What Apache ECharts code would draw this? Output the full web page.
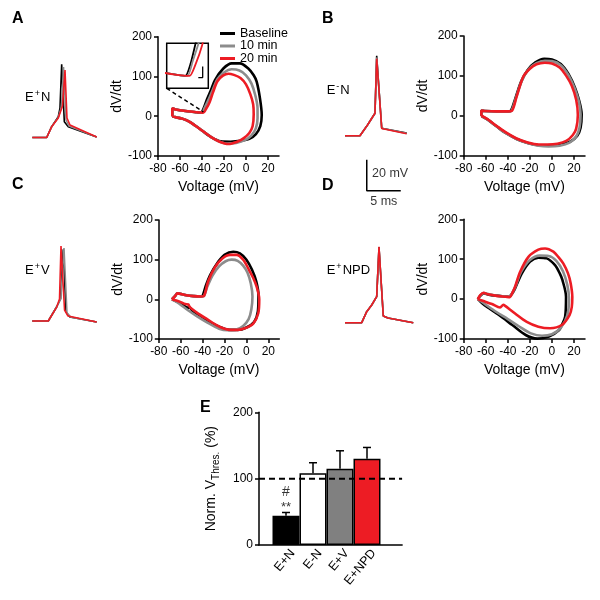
<!DOCTYPE html>
<html><head><meta charset="utf-8">
<script src="https://cdn.jsdelivr.net/npm/echarts@6/dist/echarts.min.js"></script>
<style>html,body{margin:0;padding:0;background:#fff}#c{width:600px;height:600px}</style>
</head><body><div id="c"></div>
<script>
// ---------------- DATA ----------------
const conditionNames = ['Baseline', '10 min', '20 min'];
const voltTicks = [-80, -60, -40, -20, 0, 20];

// Action potential traces [time (ms), Vm (mV)]
const apA_base = [[0,-65],[2.12,-65],[2.85,-58],[3.82,-51.6],[4.07,-46],[4.32,-17.8],[4.71,-54.8],[5.29,-58],[9.47,-64.7]];
const apA_10   = [[0,-65],[2.12,-65],[2.85,-58],[3.82,-52],[4.29,-45.3],[4.59,-19.5],[4.96,-53.7],[5.4,-57.6],[9.47,-64.7]];
const apA_20   = [[0,-65],[2.12,-65],[2.85,-58],[3.82,-52.4],[4.44,-44.7],[4.81,-21.5],[5.1,-52.4],[5.54,-56.9],[9.47,-64.7]];
const apB_base = [[0,-65],[2.2,-65],[3.31,-58.1],[4.41,-50.5],[4.66,-13.5],[5.4,-60.2],[9.07,-63.3]];
const apB_10   = [[0,-65],[2.2,-65],[3.31,-58.1],[4.41,-50.5],[4.66,-14.5],[5.4,-60.2],[9.07,-63.5]];
const apB_20   = [[0,-65],[2.2,-65],[3.31,-58.1],[4.41,-50.5],[4.66,-15.3],[5.4,-60.3],[9.07,-63.7]];
const apC_base = [[0,-65],[2.35,-65],[3.59,-55.8],[4.15,-50.8],[4.56,-18.7],[4.96,-59.2],[5.54,-62.4],[9.47,-65.6]];
const apC_10   = [[0,-65],[2.35,-65],[3.59,-55.8],[4.2,-50.5],[4.66,-17.9],[5.1,-59.8],[5.7,-62.6],[9.47,-65.6]];
const apC_20   = [[0,-65],[2.35,-65],[3.59,-56],[4.0,-50.8],[4.22,-16.6],[4.74,-57.9],[5.25,-61.8],[9.47,-65.6]];
const apD_base = [[0,-65],[2.46,-65],[3.19,-57.9],[3.93,-53.6],[4.66,-48.2],[5.0,-16.4],[5.63,-60.7],[6.32,-62],[10.04,-65]];
const apD_10   = [[0,-65],[2.46,-65],[3.19,-57.9],[3.93,-53.6],[4.66,-48.2],[5.0,-16.8],[5.63,-60.7],[6.32,-62],[10.04,-65]];
const apD_20   = [[0,-65],[2.46,-65],[3.19,-57.9],[3.93,-53.6],[4.66,-48.2],[5.0,-16.0],[5.63,-60.7],[6.32,-62],[10.04,-65]];
// scale bar (20 mV, 5 ms) in trace units
const scaleBar = [[3.2,-80.5],[3.2,-100.5],[8.2,-100.5]];
const scaleText = ['20 mV', '5 ms'];
const scaleTextPos = [[3.9,-89.3],[5.7,-107.8]];

// Phase plots [Vm (mV), dV/dt]
const loopA_base = [[-67,0],[-67,20],[-64,17],[-55,13],[-45,10],[-41,9],[-38.5,20],[-35.7,41],[-32,65],[-28.2,91],[-20.6,120],[-13,133],[-5.5,133],[2.1,120],[7,103],[9.7,87],[12.7,45],[14.3,3],[13,-25],[9,-45],[3,-57],[-5,-62],[-14,-64],[-23,-63],[-32,-52],[-40,-36],[-46,-24],[-52,-13],[-58,-6],[-63,-3],[-67,0]];
const loopA_10 = [[-67,0],[-67,20],[-64,17],[-55,13],[-45,10],[-40,9],[-37.5,22],[-34,42],[-30,68],[-26,93],[-20,110],[-13,118],[-6,115],[0,103],[5,82],[8.5,52],[10.5,20],[10.5,-5],[9,-30],[5,-48],[-1,-60],[-9,-67],[-17,-69],[-25,-63],[-32,-52],[-40,-36],[-46,-24],[-52,-13],[-58,-6],[-63,-3],[-67,0]];
const loopA_20 = [[-67,0],[-67,20],[-64,17],[-55,13],[-45,10],[-39,9],[-36,20],[-33,36],[-30,60],[-26,88],[-21,102],[-16,107],[-11,104],[-5,96],[0,80],[4,55],[6.5,30],[7,5],[6,-25],[3,-42],[-2,-55],[-8,-64],[-16,-70],[-24,-64],[-32,-52],[-40,-36],[-46,-24],[-52,-13],[-58,-6],[-63,-3],[-67,0]];
const loopB_base = [[-64,0],[-64,13],[-61,12],[-50,11],[-40,11],[-37.5,12],[-33,45],[-28,85],[-22,115],[-15,134],[-7,143],[0,141],[8,130],[15,105],[21,70],[25,35],[27,3],[26,-30],[23,-50],[17,-64],[8,-72],[-2,-75],[-12,-74],[-22,-68],[-32,-58],[-42,-43],[-50,-27],[-57,-12],[-61,-5],[-64,0]];
const loopB_10 = [[-64,0],[-64,13],[-61,12],[-50,11],[-40,11],[-37,12],[-32.5,46],[-27,90],[-21,117],[-14,132],[-6.5,138],[0,137],[8,127],[15,102],[20.5,70],[24.5,35],[26,3],[25,-30],[22,-52],[16,-67],[7,-75],[-3,-77],[-12,-75],[-22,-68],[-32,-58],[-42,-43],[-50,-27],[-57,-12],[-61,-5],[-64,0]];
const loopB_20 = [[-64,0],[-64,13],[-61,12],[-50,11],[-40,11],[-36.5,12],[-32,48],[-26,98],[-20,118],[-14,129],[-6.5,133],[0,131],[7,121],[13,100],[18,75],[22,40],[23.5,2],[22,-32],[19,-48],[13,-63],[5,-70],[-4,-72],[-12,-72],[-22,-67],[-32,-57],[-41,-43],[-50,-26],[-57,-11],[-61,-4],[-64,0]];
const loopC_base = [[-68,0],[-65,9],[-63,15],[-56,11],[-48,8],[-42,7],[-40,9],[-37,35],[-33,62],[-27,90],[-20,112],[-12,120],[-6,116],[0,100],[5,75],[9,45],[11,10],[10.5,-30],[7,-57],[0,-71],[-8,-77],[-16,-77],[-24,-70],[-34,-56],[-43,-40],[-49,-30],[-52,-21],[-54,-21],[-58,-13],[-63,-6],[-68,0]];
const loopC_10 = [[-68,0],[-65,9],[-63,15],[-56,11],[-48,8],[-42,7],[-39,8],[-36,30],[-31,60],[-25,83],[-19,96],[-13.5,100],[-8,97],[-3,85],[1,67],[4,40],[5.5,7],[4.5,-25],[2,-50],[-3,-67],[-10,-77],[-17,-78],[-25,-74],[-36,-58],[-45,-43],[-52,-30],[-58,-18],[-63,-8],[-68,0]];
const loopC_20 = [[-68,0],[-65,9],[-63,15],[-56,11],[-48,8],[-42,7],[-39,8],[-35,45],[-29,80],[-22,103],[-15,112],[-9,112],[-3,100],[2,76],[6,55],[9.3,32],[11.7,0],[10.8,-35],[6.2,-61],[-1.4,-73],[-8,-77],[-14,-77],[-20,-74],[-26,-67],[-36,-50],[-44,-36],[-50,-24],[-52,-18],[-53,-13],[-56,-12],[-60,-7],[-64,-3],[-68,0]];
const loopD_base = [[-67,0],[-65,8],[-62,14],[-55,10],[-45,7],[-39,6],[-36,14],[-33.4,27],[-27.4,64],[-19.8,94],[-12.3,104],[-4.7,102],[2.8,85],[7,65],[9.5,48],[12.8,6],[12,-44],[9,-65],[6.3,-78],[-2.7,-94],[-13.3,-99],[-23.8,-90],[-35.9,-65],[-48,-40],[-57,-23],[-63,-11],[-67,0]];
const loopD_10 = [[-67,0],[-65,9],[-62,15],[-55,11],[-45,7],[-39,6],[-36,15],[-33,32],[-28,68],[-20,98],[-11,109],[-3,108],[4,96],[10,70],[14,35],[15.5,0],[14,-40],[8,-72],[0,-88],[-9,-92],[-19,-86],[-30,-68],[-40,-50],[-50,-33],[-58,-18],[-63,-8],[-67,0]];
const loopD_20 = [[-67.3,0],[-65,10],[-62,16],[-58,12],[-50,8],[-42,6],[-38,5],[-36,15],[-33.4,31],[-28.9,68],[-21.3,106],[-12.3,124],[-6.2,127],[1.3,119],[6,105],[10.4,89],[14.5,65],[17,40],[18.5,5],[18,-20],[16,-40],[8.9,-65],[-1.7,-73],[-12.3,-69],[-22.8,-57],[-33.4,-36],[-42.4,-17],[-44,-14],[-47,-21],[-54.4,-12.5],[-62,-5],[-67.3,0]];
// inset connector and mini scale bar (phase units)
const insetConnector = [[-72.1,70.2],[-38.8,11]];
const insetScale = [[-32.7,17.3],[-32.7,7.5],[-34.8,7.5]];

// Panel E
const barCats = ['E+N', 'E-N', 'E+V', 'E+NPD'];
const barMeans = [44, 108, 115, 130];
const barSEM = [5, 16, 27, 17];
const refLine = [[0,100],[5.3,100]];
const annotText = ['#', '**'];
const annotPos = [[1,79],[1,56]];

// ---------------- STYLE ----------------
const FONT = 'Liberation Sans, Arial, Helvetica, sans-serif';
const COLORS = ['#000000', '#8c8c8c', '#ed1c24'];
const barFill = ['#000000', '#ffffff', '#808080', '#ed1c24'];

const grids = [
  {left:32.3, top:52.25, width:71.4, height:93},     // 0 trace A
  {left:158, top:36.7, width:121, height:119.3},     // 1 phase A
  {left:166.7, top:43.3, width:41.6, height:45, show:true, borderColor:'#000', borderWidth:1.5, backgroundColor:'rgba(0,0,0,0)'}, // 2 inset
  {left:345, top:50.45, width:71.4, height:158.1},   // 3 trace B
  {left:463.7, top:36, width:121.3, height:119.7},   // 4 phase B
  {left:32.3, top:235.75, width:71.4, height:93},    // 5 trace C
  {left:158.8, top:220, width:120.5, height:119},    // 6 phase C
  {left:345, top:237.45, width:71.4, height:93},     // 7 trace D
  {left:463.7, top:219.3, width:121.3, height:119.7},// 8 phase D
  {left:259, top:412.3, width:143.1, height:132.7}   // 9 bars E
].map(g => Object.assign({outerBoundsMode:'none', containLabel:false}, g));

const axLine = {onZero:false, lineStyle:{color:'#000', width:1.5}};
const axTick = {length:4, lineStyle:{color:'#000', width:1.5}};
const axLabel = {color:'#000', fontSize:12, fontFamily:FONT};
const hidden = (g, min, max) => ({gridIndex:g, type:'value', min, max, show:false, splitLine:{show:false}});

function phaseX(g) {
  return {gridIndex:g, type:'value', min:-80, max:30, splitLine:{show:false},
    axisLine:axLine, axisTick:Object.assign({customValues:voltTicks}, axTick),
    axisLabel:Object.assign({customValues:voltTicks, margin:7}, axLabel),
    name:'Voltage (mV)', nameLocation:'middle', nameGap:24,
    nameTextStyle:{fontSize:14, color:'#000', fontFamily:FONT}};
}
function phaseY(g) {
  return {gridIndex:g, type:'value', min:-100, max:200, interval:100, splitLine:{show:false},
    axisLine:axLine, axisTick:axTick, axisLabel:Object.assign({margin:6}, axLabel),
    name:'dV/dt', nameLocation:'middle', nameGap:34, nameRotate:90,
    nameTextStyle:{fontSize:14, color:'#000', fontFamily:FONT}};
}

const xAxis = [
  hidden(0, 0, 10.5), phaseX(1), hidden(2, -50, -30), hidden(3, 0, 10.5), phaseX(4),
  hidden(5, 0, 10.5), phaseX(6), hidden(7, 0, 10.5), phaseX(8),
  {gridIndex:9, type:'value', min:0, max:5.3, splitLine:{show:false}, axisLine:axLine,
   axisTick:{show:false},
   axisLabel:Object.assign({customValues:[1.25,2.25,3.25,4.25], rotate:50, margin:6, fontSize:12.5,
     formatter: v => barCats[Math.round(v - 0.25) - 1] || ''}, {color:'#000', fontFamily:FONT})}
];
const yAxis = [
  hidden(0, -70, -10), phaseY(1), hidden(2, -2, 38), hidden(3, -112, -10), phaseY(4),
  hidden(5, -70, -10), phaseY(6), hidden(7, -70, -10), phaseY(8),
  {gridIndex:9, type:'value', min:0, max:200, interval:100, splitLine:{show:false},
   axisLine:axLine, axisTick:axTick, axisLabel:Object.assign({margin:6}, axLabel),
   name:'{a|Norm. V}{b|Thres.}{a| (%)}', nameLocation:'middle', nameGap:38, nameRotate:90,
   nameTextStyle:{color:'#000', fontFamily:FONT, rich:{a:{fontSize:14, fontFamily:FONT, color:'#000'}, b:{fontSize:10, fontFamily:FONT, color:'#000', padding:[9,0,0,0]}}}}
];

function ln(name, data, ci, ax, width, smooth, extra) {
  return Object.assign({type:'line', name, data, xAxisIndex:ax, yAxisIndex:ax, symbol:'none', showSymbol:false,
    smooth: smooth, clip:true, silent:true, lineStyle:{color:COLORS[ci], width}, itemStyle:{color:COLORS[ci]}}, extra || {});
}

const series = [];
const traces = [[apA_base, apA_10, apA_20, 0], [apB_base, apB_10, apB_20, 3], [apC_base, apC_10, apC_20, 5], [apD_base, apD_10, apD_20, 7]];
traces.forEach(t => { for (let i = 0; i < 3; i++) series.push(ln(conditionNames[i], t[i], i, t[3], 1.6, false)); });
const loops = [[loopA_base, loopA_10, loopA_20, 1], [loopB_base, loopB_10, loopB_20, 4], [loopC_base, loopC_10, loopC_20, 6], [loopD_base, loopD_10, loopD_20, 8]];
loops.forEach(l => { for (let i = 0; i < 3; i++) series.push(ln(conditionNames[i], l[i], i, l[3], 2.6, 0.3)); });
// inset (same A data, zoomed axes)
for (let i = 0; i < 3; i++) series.push(ln(conditionNames[i], [loopA_base, loopA_10, loopA_20][i], i, 2, 1.8, 0.2));
series.push(ln('inset scale', insetScale, 0, 2, 1.3, false));
series.push(ln('connector', insetConnector, 0, 1, 1.5, false, {lineStyle:{color:'#000', width:1.5, type:[4,3]}}));
// scale bar in trace B units
series.push(ln('scale', scaleBar, 0, 3, 1.5, false));
series.push({type:'scatter', xAxisIndex:3, yAxisIndex:3, symbolSize:1, itemStyle:{color:'rgba(0,0,0,0)'}, silent:true,
  data: scaleTextPos.map((p, i) => ({value:p, label:{show:true, formatter:scaleText[i], position: i === 0 ? 'right' : 'inside', distance:0, color:'#000', fontSize:12.5, fontFamily:FONT}}))});

// Panel E
series.push({type:'bar', xAxisIndex:9, yAxisIndex:9, barWidth:27, silent:true,
  data: barMeans.map((m, i) => ({value:[i + 1, m], itemStyle:{color:barFill[i], borderColor:'#000', borderWidth:1.5}}))});
series.push({type:'custom', xAxisIndex:9, yAxisIndex:9, silent:true,
  data: barMeans.map((m, i) => [i + 1, m, barSEM[i]]),
  renderItem: (params, api) => {
    const x = api.value(0), m = api.value(1), s = api.value(2);
    const p0 = api.coord([x, m]), p1 = api.coord([x, m + s]);
    return {type:'group', children:[
      {type:'line', shape:{x1:p0[0], y1:p0[1], x2:p1[0], y2:p1[1]}, style:{stroke:'#000', lineWidth:1.5}},
      {type:'line', shape:{x1:p1[0] - 4, y1:p1[1], x2:p1[0] + 4, y2:p1[1]}, style:{stroke:'#000', lineWidth:1.5}}
    ]};
  }});
series.push(ln('ref', refLine, 0, 9, 2, false, {lineStyle:{color:'#000', width:2, type:[6,4]}, z:5}));
series.push({type:'scatter', xAxisIndex:9, yAxisIndex:9, symbolSize:1, itemStyle:{color:'rgba(0,0,0,0)'}, silent:true,
  data: annotPos.map((p, i) => ({value:p, label:{show:true, formatter:annotText[i], position:'inside', color:'#000', fontSize:i === 0 ? 14 : 13, fontFamily:FONT}}))});

// Titles: panel letters and trace labels
const letter = (t, left, top) => ({text:t, left, top, padding:0, textStyle:{fontSize:16, fontWeight:'bold', color:'#000', fontFamily:FONT}});
const supRich = {a:{fontSize:13, fontWeight:'normal', color:'#000', fontFamily:FONT}, s:{fontSize:9, fontWeight:'normal', color:'#000', fontFamily:FONT, padding:[0,1,8,1]}};
const tlabel = (t, left, top) => ({text:t, left, top, padding:0, textStyle:{fontWeight:'normal', rich:supRich}});
const title = [
  letter('A', 12, 11), letter('B', 322, 11), letter('C', 12, 177), letter('D', 322, 178), letter('E', 200, 400),
  tlabel('{a|E}{s|+}{a|N}', 25, 89), tlabel('{a|E}{s|-}{a|N}', 326.7, 82),
  tlabel('{a|E}{s|+}{a|V}', 25, 262), tlabel('{a|E}{s|+}{a|NPD}', 326.7, 262)
];

const chart = echarts.init(document.getElementById('c'), null, {renderer:'canvas'});
chart.setOption({
  animation:false, backgroundColor:'#fff',
  textStyle:{fontFamily:FONT, color:'#000'},
  title, grid:grids, xAxis, yAxis, series,
  legend:{data:conditionNames, orient:'vertical', left:220, top:27, padding:0, icon:'rect', itemWidth:15, itemHeight:3, itemGap:-0.5,
    selectedMode:false, textStyle:{fontSize:12.5, color:'#000', fontFamily:FONT, lineHeight:12}}
});
</script></body></html>
